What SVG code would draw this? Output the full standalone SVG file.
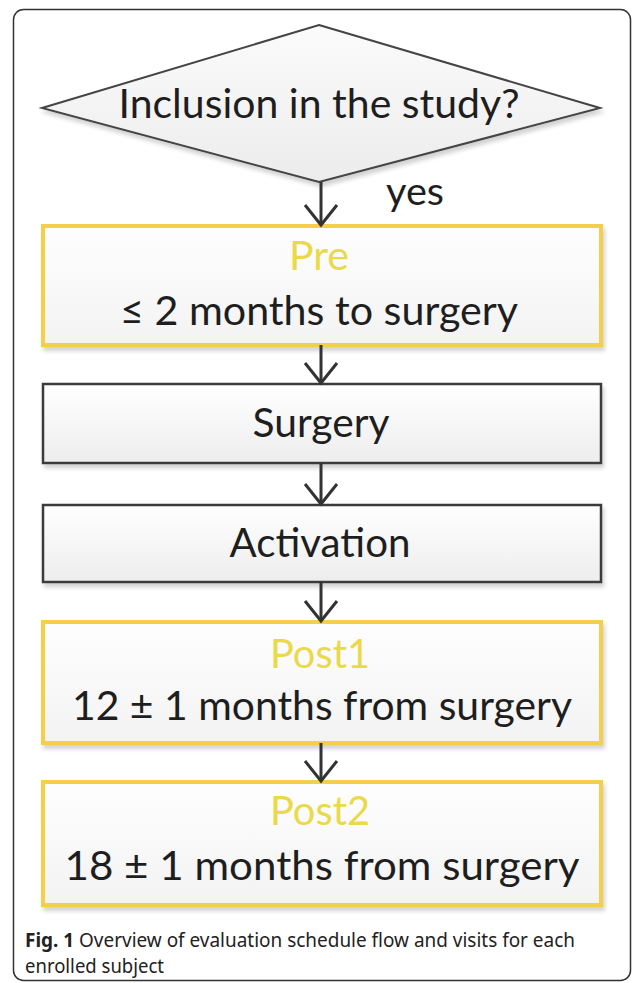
<svg xmlns="http://www.w3.org/2000/svg" width="633" height="983" viewBox="0 0 633 983">
  <defs>
    <linearGradient id="gGray" x1="0" y1="0" x2="0" y2="1">
      <stop offset="0" stop-color="#ffffff"/>
      <stop offset="1" stop-color="#ededed"/>
    </linearGradient>
    <linearGradient id="gDiamond" x1="0" y1="0" x2="0" y2="1">
      <stop offset="0" stop-color="#fbfbfb"/>
      <stop offset="1" stop-color="#ececec"/>
    </linearGradient>
    <linearGradient id="gYellow" x1="0" y1="0" x2="0" y2="1">
      <stop offset="0" stop-color="#fefefe"/>
      <stop offset="1" stop-color="#f3f3f3"/>
    </linearGradient>
    <filter id="shadow" x="-5%" y="-10%" width="110%" height="130%">
      <feGaussianBlur in="SourceAlpha" stdDeviation="2"/>
      <feOffset dx="2" dy="4" result="b"/>
      <feComponentTransfer><feFuncA type="linear" slope="0.18"/></feComponentTransfer>
      <feMerge><feMergeNode/><feMergeNode in="SourceGraphic"/></feMerge>
    </filter>
  </defs>
  <style>
    .frame { fill: none; stroke: #333; stroke-width: 1.5; }
    .grayBox { fill: url(#gGray); stroke: #3a3a3a; stroke-width: 2.5; }
    .yelBox { fill: url(#gYellow); stroke: #f3cf4c; stroke-width: 4; }
    .diamond { fill: url(#gDiamond); stroke: #444; stroke-width: 2; }
    .t { font-family: Lato, "Liberation Sans", sans-serif; font-size: 40px; fill: #1e1e1e; text-anchor: middle; }
    .lbl { font-family: Lato, "Liberation Sans", sans-serif; font-size: 40px; fill: #ead949; text-anchor: middle; }
    .yes { font-family: Lato, "Liberation Sans", sans-serif; font-size: 38px; fill: #1e1e1e; }
    .cap { font-family: "Noto Sans", "Open Sans", sans-serif; font-size: 19px; fill: #222; }
    .conn line, .conn polyline { fill: none; stroke: #333; stroke-width: 3; }
  </style>

  <rect class="frame" x="13.5" y="9.5" width="617" height="971" rx="10"/>

  <g id="node-inclusion">
    <polygon class="diamond" points="319,25 600,108 319,182 42,108" filter="url(#shadow)"/>
    <text class="t" x="319" y="118" textLength="401" lengthAdjust="spacingAndGlyphs">Inclusion in the study?</text>
  </g>

  <g id="node-pre">
    <rect class="yelBox" x="43" y="226" width="558" height="119" filter="url(#shadow)"/>
    <text class="lbl" x="319" y="270" textLength="60" lengthAdjust="spacingAndGlyphs">Pre</text>
    <text class="t" x="319" y="325" textLength="398" lengthAdjust="spacingAndGlyphs">≤ 2 months to surgery</text>
  </g>

  <g id="node-surgery">
    <rect class="grayBox" x="43" y="384" width="558" height="79" filter="url(#shadow)"/>
    <text class="t" x="321" y="437" textLength="137" lengthAdjust="spacingAndGlyphs">Surgery</text>
  </g>

  <g id="node-activation">
    <rect class="grayBox" x="43" y="505" width="558" height="77" filter="url(#shadow)"/>
    <text class="t" x="320" y="557" textLength="181" lengthAdjust="spacingAndGlyphs">Activation</text>
  </g>

  <g id="node-post1">
    <rect class="yelBox" x="43" y="622" width="558" height="121" filter="url(#shadow)"/>
    <text class="lbl" x="320" y="668" textLength="100" lengthAdjust="spacingAndGlyphs">Post1</text>
    <text class="t" x="322" y="720" textLength="500" lengthAdjust="spacingAndGlyphs">12 ± 1 months from surgery</text>
  </g>

  <g id="node-post2">
    <rect class="yelBox" x="43" y="782" width="558" height="123" filter="url(#shadow)"/>
    <text class="lbl" x="320" y="825" textLength="100" lengthAdjust="spacingAndGlyphs">Post2</text>
    <text class="t" x="322" y="880" textLength="515" lengthAdjust="spacingAndGlyphs">18 ± 1 months from surgery</text>
  </g>

  <g id="connectors" class="conn">
    <line x1="321" y1="182" x2="321" y2="225"/>
    <polyline points="305,205 321,225 337,205"/>
    <line x1="321" y1="345" x2="321" y2="383"/>
    <polyline points="305,363 321,383 337,363"/>
    <line x1="321" y1="463" x2="321" y2="504"/>
    <polyline points="305,484 321,504 337,484"/>
    <line x1="321" y1="582" x2="321" y2="621"/>
    <polyline points="305,601 321,621 337,601"/>
    <line x1="321" y1="743" x2="321" y2="781"/>
    <polyline points="305,761 321,781 337,761"/>
    <text class="yes" x="386" y="205" textLength="58" lengthAdjust="spacingAndGlyphs" stroke="none">yes</text>
  </g>

  <g id="caption">
    <text class="cap" x="25" y="947" textLength="550" lengthAdjust="spacingAndGlyphs"><tspan font-weight="bold">Fig. 1</tspan> Overview of evaluation schedule flow and visits for each</text>
    <text class="cap" x="25" y="973" textLength="139" lengthAdjust="spacingAndGlyphs">enrolled subject</text>
  </g>
</svg>
